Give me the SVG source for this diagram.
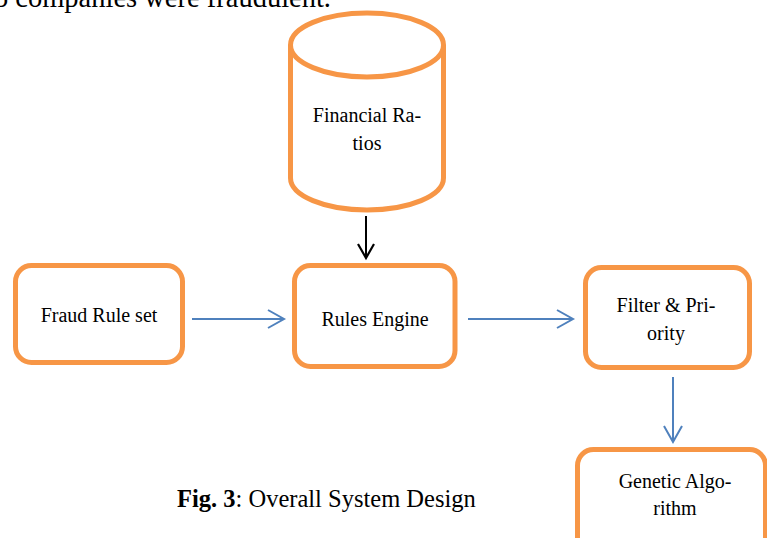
<svg xmlns="http://www.w3.org/2000/svg" width="767" height="538" viewBox="0 0 767 538">
<style>
.node{fill:#fff;stroke:#F79646;stroke-width:5}
.lbl{font-family:"Liberation Serif","Times New Roman",serif;font-size:20px;fill:#000;text-anchor:middle}
.blue{stroke:#4F81BD;stroke-width:2;fill:none}
.blk{stroke:#000;stroke-width:2;fill:none}
</style>
<defs>
<marker id="ab" markerWidth="20" markerHeight="22" refX="17" refY="10" orient="auto" markerUnits="userSpaceOnUse">
<path d="M1,1 L17,10 L1,19" fill="none" stroke="#4F81BD" stroke-width="2"/>
</marker>
<marker id="ak" markerWidth="20" markerHeight="22" refX="15" refY="9" orient="auto" markerUnits="userSpaceOnUse">
<path d="M1,1 L15,9 L1,17" fill="none" stroke="#000" stroke-width="2.2"/>
</marker>
</defs>
<rect width="767" height="538" fill="#fff"/>
<text x="331" y="7" font-family="Liberation Serif,serif" font-size="28.5" text-anchor="end">65 companies were fraudulent.</text>
<g id="financial-ratios">
<path class="node" d="M290.5,45 L290.5,178 A76.5,32 0 0 0 443.5,178 L443.5,45"/>
<ellipse class="node" cx="367" cy="45" rx="76.5" ry="32"/>
<text class="lbl" x="367" y="122">Financial Ra-</text>
<text class="lbl" x="367" y="150">tios</text>
</g>
<g id="fraud-rule-set">
<rect class="node" x="15.5" y="265.5" width="167" height="97" rx="16"/>
<text class="lbl" x="99" y="322">Fraud Rule set</text>
</g>
<g id="rules-engine">
<rect class="node" x="294.5" y="265.5" width="160.5" height="101" rx="16"/>
<text class="lbl" x="375" y="326">Rules Engine</text>
</g>
<g id="filter-priority">
<rect class="node" x="585.5" y="267.5" width="164" height="100" rx="16"/>
<text class="lbl" x="666" y="312">Filter &amp; Pri-</text>
<text class="lbl" x="666" y="340">ority</text>
</g>
<g id="genetic-algorithm">
<rect class="node" x="577.5" y="449.5" width="188" height="110" rx="16"/>
<text class="lbl" x="675" y="488">Genetic Algo-</text>
<text class="lbl" x="675" y="515">rithm</text>
</g>
<g id="connectors">
<line class="blk" x1="366" y1="216" x2="366" y2="258" marker-end="url(#ak)"/>
<line class="blue" x1="192" y1="319" x2="284" y2="319" marker-end="url(#ab)"/>
<line class="blue" x1="468" y1="319" x2="573" y2="319" marker-end="url(#ab)"/>
<line class="blue" x1="673" y1="377" x2="673" y2="442" marker-end="url(#ab)"/>
</g>
<text x="177" y="507" font-family="Liberation Serif,serif" font-size="24.5"><tspan font-weight="bold">Fig. 3</tspan>: Overall System Design</text>
</svg>
